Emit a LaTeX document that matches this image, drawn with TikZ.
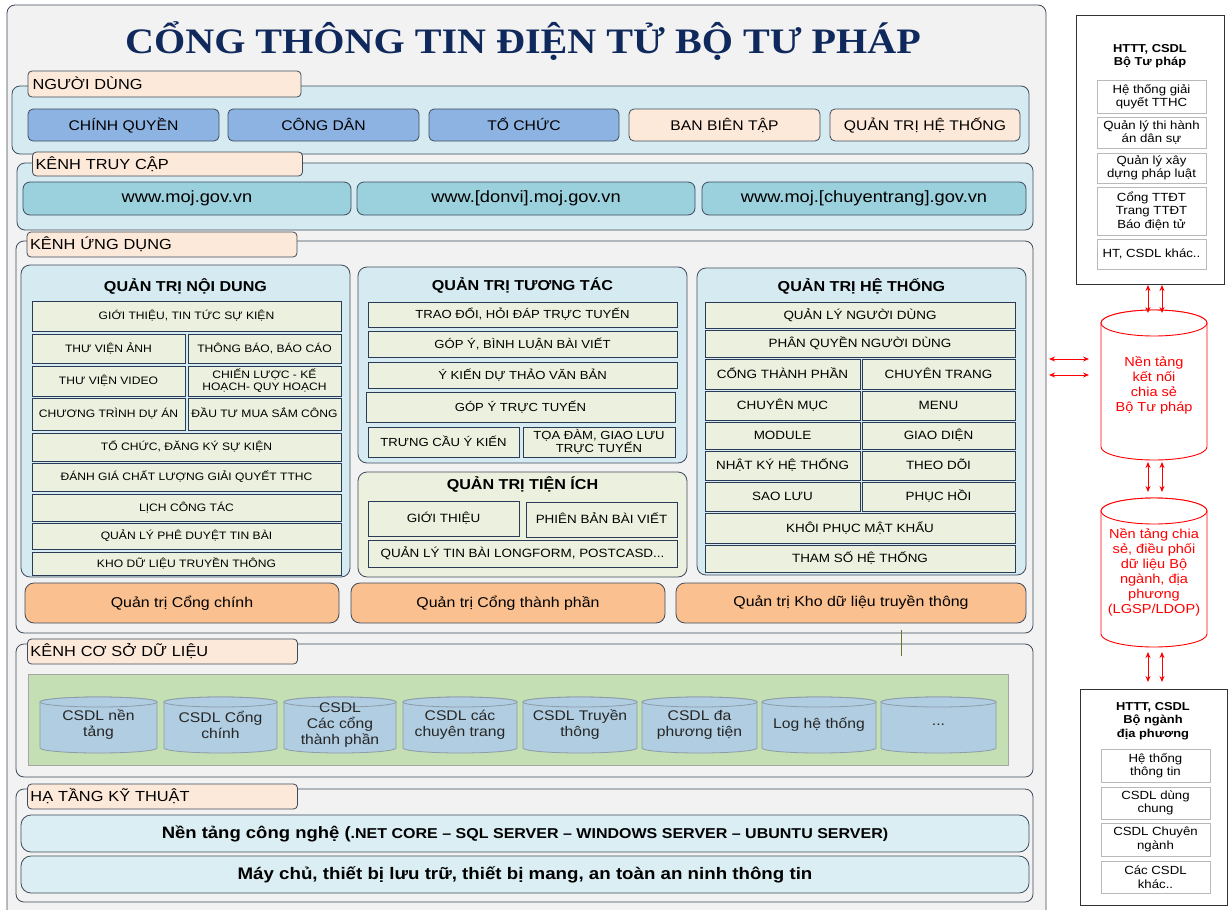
\documentclass[tikz,border=0pt]{standalone}
\usepackage{fontspec}
\setmainfont{Liberation Sans}[FakeStretch=1.12]
\newfontfamily\titlefont{Liberation Serif}[FakeStretch=1.12]
\usetikzlibrary{arrows.meta}
\definecolor{bgc}{HTML}{F2F2F2}
\definecolor{bordc}{HTML}{3F4B5B}
\definecolor{lblue}{HTML}{D5EBF1}
\definecolor{peach}{HTML}{FDE9D9}
\definecolor{btnblue}{HTML}{8DB3E2}
\definecolor{aqua}{HTML}{9BD0DD}
\definecolor{cream}{HTML}{EBF1DE}
\definecolor{itemb}{HTML}{2B3A55}
\definecolor{orng}{HTML}{FAC090}
\definecolor{grn}{HTML}{C4DFB3}
\definecolor{cylb}{HTML}{B0CDE1}
\definecolor{cylbd}{HTML}{8C9BA8}
\definecolor{navy}{HTML}{10295C}
\definecolor{infra}{HTML}{DAEEF3}
\definecolor{olivec}{HTML}{6B7A2A}
\newcommand\fsz[2]{\fontsize{#1}{#2}\selectfont}
\newcommand\mybox[7]{\node[#2, minimum width={(#5-#3)*1pt}, minimum height={(#6-#4)*1pt}] (#1) at ({(#3+#5)/2},{(#4+#6)/2}) {#7};}
\newcommand\mycyl[9]{%
  \path[#2] (#3,{#4+#7}) -- (#3,{#6-#7})
    arc[start angle=180, end angle=360, x radius={(#5-#3)/2*1pt}, y radius={#7*1pt}]
    -- (#5,{#4+#7})
    arc[start angle=0, end angle=180, x radius={(#5-#3)/2*1pt}, y radius={#7*1pt}]
    -- cycle;
  \path[#2] ({(#3+#5)/2},{#4+#7}) ellipse[x radius={(#5-#3)/2*1pt}, y radius={#7*1pt}];
  \node[#8, minimum width={(#5-#3)*1pt}, minimum height={(#6-#4)*1pt}] (#1) at ({(#3+#5)/2},{(#4+#6)/2}) {#9};
}
\begin{document}
\begin{tikzpicture}[x=1pt,y=-1pt,
 every node/.style={inner sep=0pt, outer sep=0pt},
 sect/.style={draw=bordc, fill=lblue, rounded corners=8pt, line width=0.8pt},
 sectg/.style={draw=bordc, fill=bgc, rounded corners=8pt, line width=0.8pt},
 lbl/.style={draw=bordc, fill=peach, rounded corners=4pt, line width=0.8pt, inner xsep=3pt, text width=264pt, align=left, font=\fsz{14.6}{16}, text height=14pt, text depth=3.6pt},
 btnb/.style={draw=bordc, fill=btnblue, rounded corners=5pt, line width=0.8pt, font=\fsz{14}{16}, text height=13.5pt, text depth=3.5pt},
 btnp/.style={btnb, fill=peach},
 urlb/.style={draw=bordc, fill=aqua, rounded corners=7pt, line width=0.8pt, font=\fsz{16.3}{18}},
 panel/.style={draw=bordc, fill=lblue, rounded corners=9pt, line width=0.8pt},
 panelg/.style={panel, fill=cream},
 ptitle/.style={font=\bfseries\fsz{14.4}{16}, text height=13.9pt, text depth=3.6pt},
 itemN0/.style={draw=itemb, fill=cream, line width=1pt, align=center, font=\fsz{10.8}{12}},
 itemN/.style={itemN0, text height=10.5pt, text depth=2.8pt},
 itemT0/.style={itemN0, font=\fsz{11.7}{13.3}},
 itemT/.style={itemT0, text height=11.3pt, text depth=2.9pt},
 itemE/.style={itemN0, font=\fsz{12}{14}, text height=11.6pt, text depth=3pt},
 itemH/.style={itemN0, font=\fsz{12}{14}, text height=11.6pt, text depth=3pt},
 obtn/.style={draw=bordc, fill=orng, rounded corners=9pt, line width=0.8pt, font=\fsz{14.2}{16}},
 grnbox/.style={draw=gray!70, fill=grn, line width=0.8pt},
 infrab/.style={draw=bordc, fill=infra, rounded corners=10pt, line width=0.8pt},
 rbox/.style={draw=black!80, fill=white, line width=1pt},
 rtitle/.style={font=\bfseries\fsz{11.5}{13.5}, align=center},
 rin/.style={draw=gray!55, fill=white, line width=0.8pt, align=center, font=\fsz{11.8}{13.5}},
 dbcyl/.style={fill=cylb, draw=cylbd, line width=0.8pt},
 dbtext/.style={font=\fsz{14}{16}, align=center, text=black!85},
 redcyl/.style={draw=red, fill=white, line width=0.9pt},
 redtext/.style={text=red, font=\fsz{13}{15}, align=center},
 rarr/.style={red, line width=0.9pt, {Stealth[length=6pt,width=5pt]}-{Stealth[length=6pt,width=5pt]}}
]
\useasboundingbox (0,0) rectangle (1229,910);
\clip (0,0) rectangle (1229,910);
\fill[white] (0,0) rectangle (1229,910);
\mybox{main}{sectg, rounded corners=8pt}{7}{5}{1046}{935}{}
\node[font=\titlefont\bfseries\fsz{35.8}{40}, text=navy, anchor=base] (title) at (523,53) {CỔNG THÔNG TIN ĐIỆN TỬ BỘ TƯ PHÁP};

% NGUOI DUNG
\mybox{nd}{sect}{12}{86}{1029}{154}{}
\mybox{ndl}{lbl}{28}{71}{301}{97}{NGƯỜI DÙNG}
\mybox{b1}{btnb}{28}{109}{219}{141}{CHÍNH QUYỀN}
\mybox{b2}{btnb}{228}{109}{419}{141}{CÔNG DÂN}
\mybox{b3}{btnb}{429}{109}{619}{141}{TỔ CHỨC}
\mybox{b4}{btnp}{629}{109}{820}{141}{BAN BIÊN TẬP}
\mybox{b5}{btnp}{830}{109}{1020}{141}{QUẢN TRỊ HỆ THỐNG}

% KENH TRUY CAP
\mybox{kt}{sect}{17}{163}{1033}{230}{}
\mybox{ktl}{lbl}{33}{152}{302}{176}{KÊNH TRUY CẬP}
\mybox{u1}{urlb}{23}{182}{351}{215}{www.moj.gov.vn}
\mybox{u2}{urlb}{357}{182}{695}{215}{www.[donvi].moj.gov.vn}
\mybox{u3}{urlb}{702}{182}{1026}{215}{www.moj.[chuyentrang].gov.vn}

% KENH UNG DUNG
\mybox{ud}{sectg}{16}{241}{1033}{633}{}
\mybox{udl}{lbl}{27}{232}{297}{257}{KÊNH ỨNG DỤNG}

\mybox{p1}{panel}{21}{265}{350}{577}{}
\node[ptitle] (p1t) at (185.5,286) {QUẢN TRỊ NỘI DUNG};
\mybox{n1}{itemN}{32}{301}{341}{331}{GIỚI THIỆU, TIN TỨC SỰ KIỆN}
\mybox{n2}{itemN}{32}{334}{185}{363}{THƯ VIỆN ẢNH}
\mybox{n3}{itemN}{188}{334}{341}{363}{THÔNG BÁO, BÁO CÁO}
\mybox{n4}{itemN}{32}{366}{185}{396}{THƯ VIỆN VIDEO}
\mybox{n5}{itemN0}{188}{366}{341}{396}{CHIẾN LƯỢC - KẾ\\HOẠCH- QUY HOẠCH}
\mybox{n6}{itemN}{32}{398}{185}{430}{CHƯƠNG TRÌNH DỰ ÁN}
\mybox{n7}{itemN}{188}{398}{341}{430}{ĐẦU TƯ MUA SẮM CÔNG}
\mybox{n8}{itemN}{32}{433}{341}{461}{TỔ CHỨC, ĐĂNG KÝ SỰ KIỆN}
\mybox{n9}{itemN}{32}{463}{341}{491}{ĐÁNH GIÁ CHẤT LƯỢNG GIẢI QUYẾT TTHC}
\mybox{n10}{itemN}{32}{494}{341}{521}{LỊCH CÔNG TÁC}
\mybox{n11}{itemN}{32}{523}{341}{549}{QUẢN LÝ PHÊ DUYỆT TIN BÀI}
\mybox{n12}{itemN}{32}{552}{341}{575}{KHO DỮ LIỆU TRUYỀN THÔNG}

\mybox{p2}{panel}{358}{267}{687}{463}{}
\node[ptitle] (p2t) at (522.5,285) {QUẢN TRỊ TƯƠNG TÁC};
\mybox{t1}{itemT}{368}{302}{677}{327}{TRAO ĐỔI, HỎI ĐÁP TRỰC TUYẾN}
\mybox{t2}{itemT}{368}{331}{677}{357}{GÓP Ý, BÌNH LUẬN BÀI VIẾT}
\mybox{t3}{itemT}{368}{362}{677}{388}{Ý KIẾN DỰ THẢO VĂN BẢN}
\mybox{t4}{itemT}{366}{392}{675}{422}{GÓP Ý TRỰC TUYẾN}
\mybox{t5}{itemT}{368}{427}{519}{457}{TRƯNG CẦU Ý KIẾN}
\mybox{t6}{itemT0}{523}{427}{675}{457}{TỌA ĐÀM, GIAO LƯU\\TRỰC TUYẾN}

\mybox{p3}{panelg}{358}{472}{687}{577}{}
\node[ptitle] (p3t) at (522.5,484) {QUẢN TRỊ TIỆN ÍCH};
\mybox{e1}{itemE}{368}{501}{519}{536}{GIỚI THIỆU}
\mybox{e2}{itemE}{526}{502}{677}{537}{PHIÊN BẢN BÀI VIẾT}
\mybox{e3}{itemE}{368}{540}{677}{567}{QUẢN LÝ TIN BÀI LONGFORM, POSTCASD...}

\mybox{p4}{panel}{697}{268}{1026}{575}{}
\node[ptitle] (p4t) at (861.5,286) {QUẢN TRỊ HỆ THỐNG};
\mybox{h1}{itemH}{705}{302}{1015}{328}{QUẢN LÝ NGƯỜI DÙNG}
\mybox{h2}{itemH}{705}{330}{1015}{357}{PHÂN QUYỀN NGƯỜI DÙNG}
\mybox{h3}{itemH}{705}{359}{860}{389}{CỔNG THÀNH PHẦN}
\mybox{h4}{itemH}{862}{359}{1015}{389}{CHUYÊN TRANG}
\mybox{h5}{itemH}{705}{391}{860}{420}{CHUYÊN MỤC}
\mybox{h6}{itemH}{862}{391}{1015}{420}{MENU}
\mybox{h7}{itemH}{705}{422}{860}{449}{MODULE}
\mybox{h8}{itemH}{862}{422}{1015}{449}{GIAO DIỆN}
\mybox{h9}{itemH}{705}{451}{860}{480}{NHẬT KÝ HỆ THỐNG}
\mybox{h10}{itemH}{862}{451}{1015}{480}{THEO DÕI}
\mybox{h11}{itemH}{705}{482}{860}{511}{SAO LƯU}
\mybox{h12}{itemH}{862}{482}{1015}{511}{PHỤC HỒI}
\mybox{h13}{itemH}{705}{513}{1015}{543}{KHÔI PHỤC MẬT KHẨU}
\mybox{h14}{itemH}{705}{545}{1015}{572}{THAM SỐ HỆ THỐNG}

\mybox{o1}{obtn}{25}{583}{339}{623}{Quản trị Cổng chính}
\mybox{o2}{obtn}{351}{583}{665}{623}{Quản trị Cổng thành phần}
\mybox{o3}{obtn}{676}{583}{1026}{623}{Quản trị Kho dữ liệu truyền thông}

% KENH CSDL
\mybox{cs}{sectg}{16}{644}{1033}{777}{}
\coordinate (vl1) at (901,630);
\coordinate (vl2) at (901,656);
\draw[olivec, line width=0.8pt] (vl1) -- (vl2);
\mybox{csl}{lbl}{28}{639}{297}{664}{KÊNH CƠ SỞ DỮ LIỆU}
\mybox{gb}{grnbox}{28}{674}{1008}{765}{}
\mycyl{d1}{dbcyl}{40}{697}{157}{753}{5}{dbtext}{CSDL nền\\tảng}
\mycyl{d2}{dbcyl}{164}{697}{277}{753}{5}{dbtext}{CSDL Cổng\\chính}
\mycyl{d3}{dbcyl}{284}{697}{396}{753}{5}{dbtext}{CSDL\\Các cổng\\thành phần}
\mycyl{d4}{dbcyl}{403}{697}{517}{753}{5}{dbtext}{CSDL các\\chuyên trang}
\mycyl{d5}{dbcyl}{523}{697}{637}{753}{5}{dbtext}{CSDL Truyền\\thông}
\mycyl{d6}{dbcyl}{642}{697}{757}{753}{5}{dbtext}{CSDL đa\\phương tiện}
\mycyl{d7}{dbcyl}{762}{697}{876}{753}{5}{dbtext}{Log hệ thống}
\mycyl{d8}{dbcyl}{881}{697}{996}{753}{5}{dbtext}{...}

% HA TANG
\mybox{ht}{sectg}{16}{789}{1033}{902}{}
\mybox{htl}{lbl}{28}{784}{297}{809}{HẠ TẦNG KỸ THUẬT}
\mybox{r1}{infrab}{21}{815}{1029}{852}{{\bfseries\fsz{16.5}{18}Nền tảng công nghệ (}{\bfseries\fsz{14.3}{18}.NET CORE – SQL SERVER – WINDOWS SERVER – UBUNTU SERVER)}}
\mybox{r2}{infrab}{21}{856}{1029}{893}{{\bfseries\fsz{16.7}{18}Máy chủ, thiết bị lưu trữ, thiết bị mang, an toàn an ninh thông tin}}

% RIGHT COLUMN
\mybox{trb}{rbox}{1076}{15}{1224}{284}{}
\node[rtitle] (trt) at (1150,56) {HTTT, CSDL\\Bộ Tư pháp};
\mybox{s1}{rin}{1097}{80}{1206}{113}{Hệ thống giải\\quyết TTHC}
\mybox{s2}{rin}{1097}{117}{1206}{148}{Quản lý thi hành\\án dân sự}
\mybox{s3}{rin}{1097}{153}{1206}{183}{Quản lý xây\\dựng pháp luật}
\mybox{s4}{rin}{1097}{187}{1206}{235}{Cổng TTĐT\\Trang TTĐT\\Báo điện tử}
\mybox{s5}{rin}{1097}{239}{1206}{269}{HT, CSDL khác..}

\mycyl{cy1}{redcyl}{1101}{310}{1207}{460}{13}{redtext}{Nền tảng\\kết nối\\chia sẻ\\Bộ Tư pháp}
\mycyl{cy2}{redcyl}{1101}{498}{1207}{647}{13}{redtext}{Nền tảng chia\\sẻ, điều phối\\dữ liệu Bộ\\ngành, địa\\phương\\(LGSP/LDOP)}

\mybox{brb}{rbox}{1080}{689}{1227}{905}{}
\node[rtitle] (brt) at (1153,721) {HTTT, CSDL\\Bộ ngành\\địa phương};
\mybox{q1}{rin}{1101}{749}{1210}{782}{Hệ thống\\thông tin}
\mybox{q2}{rin}{1101}{787}{1210}{819}{CSDL dùng\\chung}
\mybox{q3}{rin}{1101}{823}{1210}{856}{CSDL Chuyên\\ngành}
\mybox{q4}{rin}{1101}{861}{1210}{893}{Các CSDL\\khác..}

% arrows
\draw[rarr, shorten <=1pt, shorten >=-3pt] (1148,0 |- trb.south) -- (1148,0 |- cy1.north);
\draw[rarr, shorten <=1pt, shorten >=-3pt] (1162,0 |- trb.south) -- (1162,0 |- cy1.north);
\draw[rarr, shorten <=2pt, shorten >=6pt] (1148,0 |- cy1.south) -- (1148,0 |- cy2.north);
\draw[rarr, shorten <=2pt, shorten >=6pt] (1162,0 |- cy1.south) -- (1162,0 |- cy2.north);
\draw[rarr, shorten <=5pt, shorten >=7pt] (1148,0 |- cy2.south) -- (1148,0 |- brb.north);
\draw[rarr, shorten <=5pt, shorten >=7pt] (1162,0 |- cy2.south) -- (1162,0 |- brb.north);
\coordinate (ha1) at (1049,359);
\coordinate (hb1) at (1089,359);
\coordinate (ha2) at (1049,375);
\coordinate (hb2) at (1089,375);
\draw[rarr] (ha1) -- (hb1);
\draw[rarr] (ha2) -- (hb2);
\end{tikzpicture}
\end{document}
